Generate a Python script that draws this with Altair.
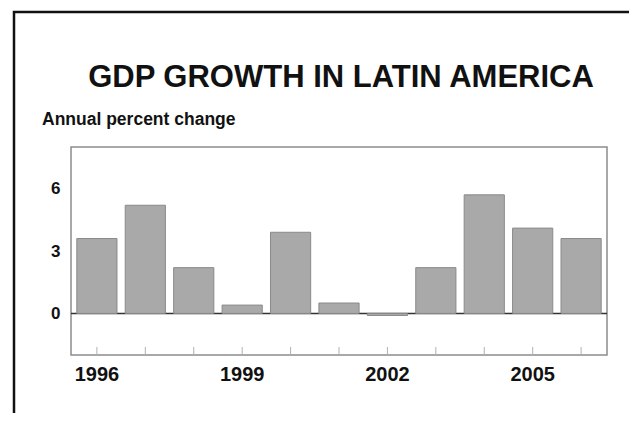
import altair as alt
import pandas as pd

years = [str(y) for y in range(1996, 2007)]
growth = [3.6, 5.2, 2.2, 0.4, 3.9, 0.5, -0.1, 2.2, 5.7, 4.1, 3.6]
shown_labels = ["1996", "1999", "2002", "2005"]
y_ticks = [0, 3, 6]
title_text = "GDP GROWTH IN LATIN AMERICA"
subtitle_text = "Annual percent change"

FONT = "Liberation Sans"
W, H = 536, 208

df = pd.DataFrame({"year": years, "growth": growth})

xscale = alt.Scale(domain=years, paddingInner=0.17, paddingOuter=0.12)
yscale = alt.Scale(domain=[-2, 8], nice=False, zero=False)

label_expr = "indexof(" + str(shown_labels) + ", datum.label) >= 0 ? datum.label : ''"

bars = alt.Chart(df).mark_bar(
    fill="#a9a9a9", stroke="#8a8a8a", strokeWidth=1
).encode(
    x=alt.X("year:O", scale=xscale, title=None,
            axis=alt.Axis(labelExpr=label_expr, labelAngle=0, ticks=False,
                          domain=False, labelFont=FONT, labelFontSize=20,
                          labelFontWeight="bold", labelColor="#111",
                          labelPadding=9)),
    y=alt.Y("growth:Q", scale=yscale, title=None,
            axis=alt.Axis(values=y_ticks, ticks=False, domain=False, grid=False,
                          labelFont=FONT, labelFontSize=17, labelFontWeight="bold",
                          labelColor="#111", labelPadding=11)),
)

zero = alt.Chart(pd.DataFrame({"z": [0]})).mark_rule(
    color="#333", strokeWidth=1.5
).encode(y=alt.Y("z:Q", scale=yscale))

ticks = alt.Chart(df).mark_rule(color="#b0b0b0", strokeWidth=1).encode(
    x=alt.X("year:O", scale=xscale),
    y=alt.value(H),
    y2=alt.value(H - 8),
)

title = alt.Chart(pd.DataFrame({"t": [title_text]})).mark_text(
    font=FONT, fontSize=31, fontWeight="bold", color="#111",
    align="center", baseline="alphabetic"
).encode(text="t:N", x=alt.value(W / 2 + 2), y=alt.value(-60))

subtitle = alt.Chart(pd.DataFrame({"t": [subtitle_text]})).mark_text(
    font=FONT, fontSize=17.5, fontWeight="bold", color="#111",
    align="left", baseline="alphabetic"
).encode(text="t:N", x=alt.value(-29), y=alt.value(-22))

frame = alt.Chart(pd.DataFrame({"f": [0]})).mark_rect(
    fill=None, stroke="#111", strokeWidth=2.5
).encode(
    x=alt.value(-57), x2=alt.value(560),
    y=alt.value(-135), y2=alt.value(300),
)

chart = alt.layer(frame, zero, bars, ticks, title, subtitle).properties(
    width=W, height=H,
    autosize=alt.AutoSizeParams(type="none"),
    padding={"left": 63, "top": 139, "right": 22, "bottom": 58},
    background="white",
).configure_view(stroke="#8c8c8c", strokeWidth=1.5)

chart.save("out.html", embed_options={"renderer": "svg", "actions": False})
